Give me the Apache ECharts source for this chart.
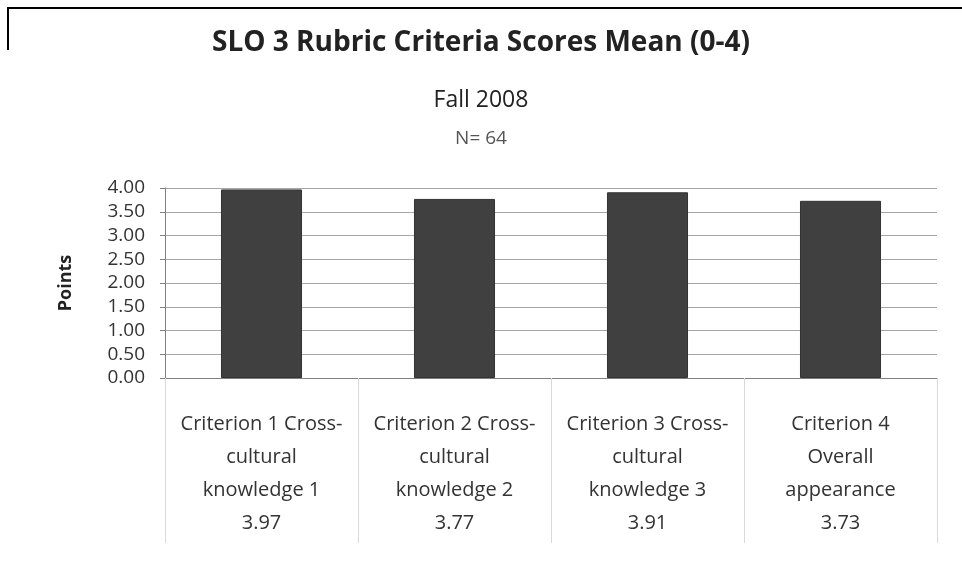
<!DOCTYPE html>
<html>
<head>
<meta charset="utf-8">
<script src="https://cdn.jsdelivr.net/npm/echarts@6/dist/echarts.min.js"></script>
<style>
html,body{margin:0;padding:0;background:#fff;}
#chart{width:962px;height:584px;}
</style>
</head>
<body>
<div id="chart"></div>
<script>
const titleText = "SLO 3 Rubric Criteria Scores Mean (0-4)";
const subTitle1 = "Fall 2008";
const subTitle2 = "N= 64";
const categoryLine1 = ["Criterion 1 Cross-", "Criterion 2 Cross-", "Criterion 3 Cross-", "Criterion 4"];
const categoryLine2 = ["cultural", "cultural", "cultural", "Overall"];
const categoryLine3 = ["knowledge 1", "knowledge 2", "knowledge 3", "appearance"];
const meanValues = [3.97, 3.77, 3.91, 3.73];
const yTicks = ["0.00", "0.50", "1.00", "1.50", "2.00", "2.50", "3.00", "3.50", "4.00"];

const categories = categoryLine1.map((c, i) => c + "|" + i);
const F = '"Open Sans", "Liberation Sans", sans-serif';

const chart = echarts.init(document.getElementById('chart'));
chart.setOption({
  backgroundColor: '#fff',
  animation: false,
  textStyle: { fontFamily: F },
  title: [
    { text: titleText, left: 'center', top: 24,
      textStyle: { fontSize: 28, fontWeight: 'bold', color: '#222', fontFamily: F } },
    { text: subTitle1, left: 'center', top: 84,
      textStyle: { fontSize: 23, fontWeight: 'normal', color: '#222', fontFamily: F } },
    { text: subTitle2, left: 'center', top: 124,
      textStyle: { fontSize: 19, fontWeight: 'normal', color: '#555', fontFamily: F } }
  ],
  graphic: [
    { type: 'polyline', shape: { points: [[8, 50], [8, 8], [962, 8]] },
      style: { stroke: '#000', lineWidth: 2, fill: null } }
  ],
  grid: { left: 165, right: 25, top: 188, bottom: 206, containLabel: false },
  xAxis: {
    type: 'category',
    data: categories,
    axisLine: { show: true, lineStyle: { color: '#808080', width: 1 } },
    axisTick: { show: true, length: 165, lineStyle: { color: '#d9d9d9' } },
    axisLabel: {
      interval: 0,
      margin: 30,
      lineHeight: 33,
      fontSize: 20,
      color: '#333',
      fontFamily: F,
      formatter: function (v) {
        const i = +v.split('|')[1];
        return categoryLine1[i] + '\n' + categoryLine2[i] + '\n' + categoryLine3[i] + '\n' + meanValues[i].toFixed(2);
      }
    }
  },
  yAxis: {
    type: 'value',
    min: 0, max: 4, interval: 0.5,
    name: 'Points',
    nameLocation: 'middle',
    nameGap: 90,
    nameTextStyle: { fontSize: 18, fontWeight: 'bold', color: '#222' },
    axisLine: { show: true, lineStyle: { color: '#808080' } },
    axisTick: { show: true, length: 5, lineStyle: { color: '#808080' } },
    axisLabel: {
      fontSize: 19, color: '#333', margin: 20,
      formatter: function (v) { return yTicks[Math.round(v / 0.5)]; }
    },
    splitLine: { show: true, lineStyle: { color: '#a6a6a6', width: 1 } }
  },
  series: [{
    type: 'bar',
    data: meanValues,
    barWidth: '42%',
    itemStyle: { color: '#404040', borderColor: '#333', borderWidth: 1 }
  }]
});
</script>
</body>
</html>
